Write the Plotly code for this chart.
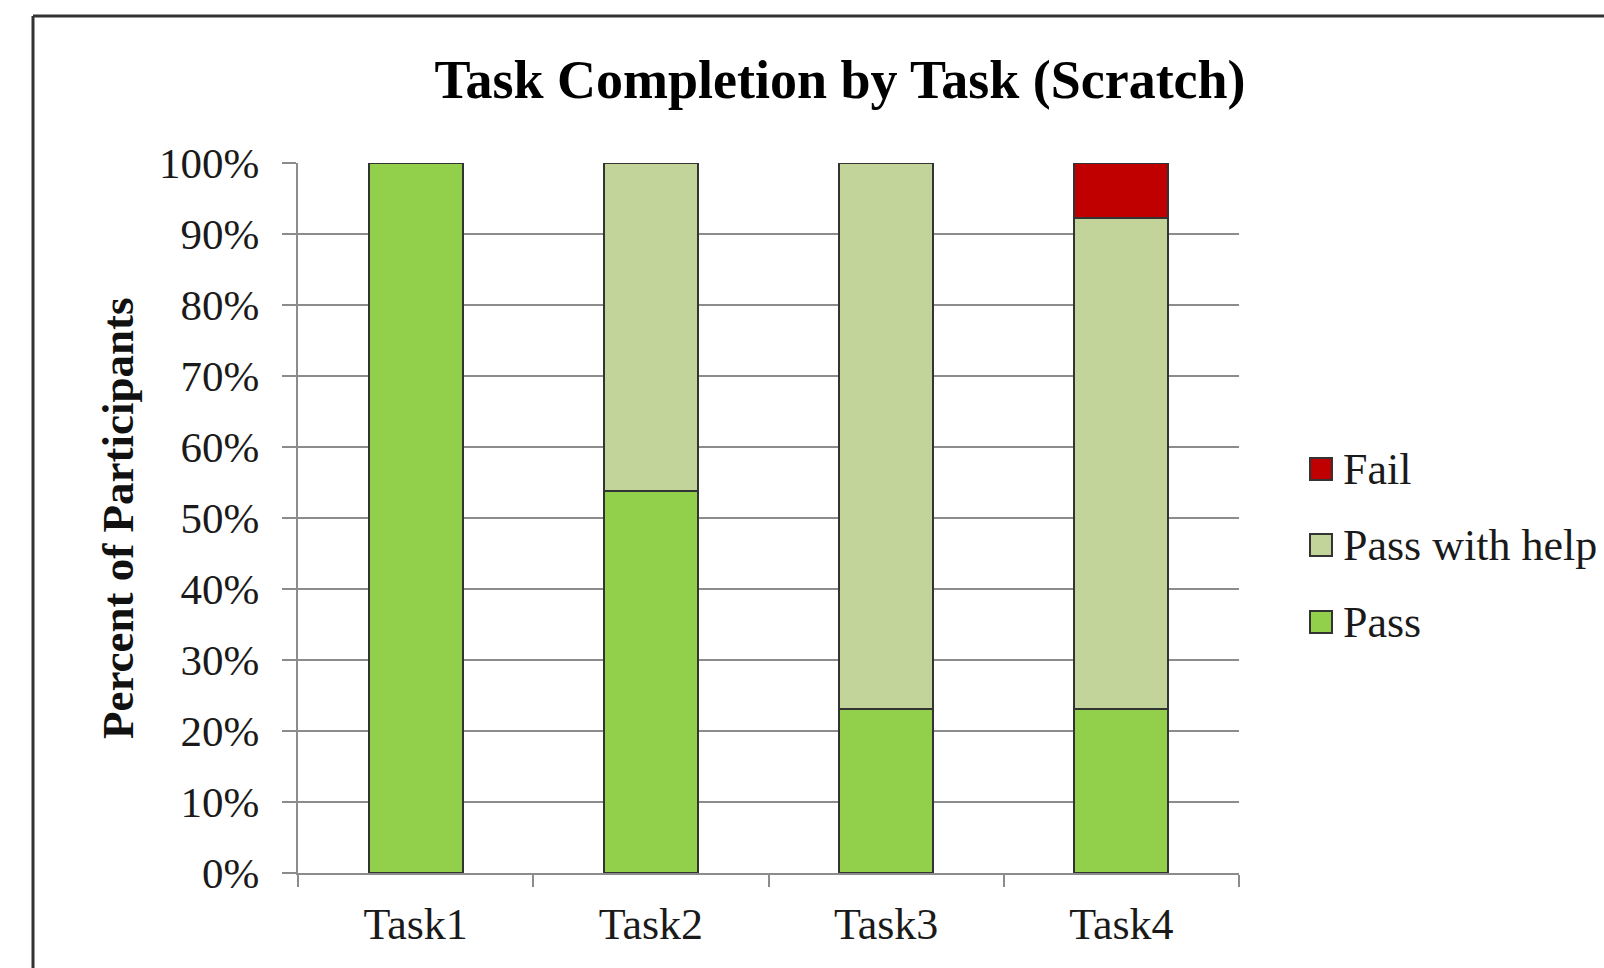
import plotly.graph_objects as go

# Share of participants per outcome (13 participants per task)
tasks = ["Task1", "Task2", "Task3", "Task4"]
pass_pct = [1.0, 0.538, 0.231, 0.231]
help_pct = [0.0, 0.462, 0.769, 0.692]
fail_pct = [0.0, 0.0, 0.0, 0.077]

series_names = ["Pass", "Pass with help", "Fail"]
series_colors = ["#92CF4A", "#C3D49B", "#C00000"]
series_values = [pass_pct, help_pct, fail_pct]

W, H = 1604, 968
L, R, T, B = 298, 365, 163, 95
pw, ph = W - L - R, H - T - B

FONT = "Liberation Serif"
EDGE = "#333333"

fig = go.Figure()
for name, color, vals in zip(series_names, series_colors, series_values):
    fig.add_trace(go.Bar(
        x=tasks, y=vals, name=name, width=0.4,
        marker=dict(color=color, line=dict(color=EDGE, width=2)),
        showlegend=False,
    ))


def px_x(x):
    return (x - L) / pw


def px_y(y):
    return (H - B - y) / ph


shapes = [
    # outer frame (left and top edges)
    dict(type="line", xref="paper", yref="paper", x0=px_x(33), x1=px_x(33),
         y0=px_y(16), y1=px_y(H + 10), line=dict(color="#333333", width=3)),
    dict(type="line", xref="paper", yref="paper", x0=px_x(33), x1=px_x(W + 10),
         y0=px_y(16), y1=px_y(16), line=dict(color="#333333", width=3)),
]
annotations = []

# legend drawn top-to-bottom: Fail, Pass with help, Pass
legend_y = [469, 545, 622]
for (name, color), yc in zip(list(zip(series_names, series_colors))[::-1], legend_y):
    shapes.append(dict(type="rect", xref="paper", yref="paper",
                       x0=px_x(1310), x1=px_x(1332), y0=px_y(yc - 11), y1=px_y(yc + 11),
                       fillcolor=color, line=dict(color=EDGE, width=2)))
    annotations.append(dict(text=name, xref="paper", yref="paper",
                            x=px_x(1341), y=px_y(yc), xanchor="left", yanchor="middle",
                            showarrow=False, font=dict(family=FONT, size=44, color="#1a1a1a")))

annotations.append(dict(text="<b>Percent of Participants</b>", xref="paper", yref="paper",
                        x=px_x(118), y=0.5, textangle=-90, showarrow=False,
                        xanchor="center", yanchor="middle",
                        font=dict(family=FONT, size=45, color="#111111")))

fig.update_layout(
    width=W, height=H,
    margin=dict(l=L, r=R, t=T, b=B, autoexpand=False),
    paper_bgcolor="white", plot_bgcolor="white",
    barmode="stack",
    title=dict(text="<b>Task Completion by Task (Scratch)</b>",
               x=840 / W, xanchor="center", y=1 - 79 / H, yanchor="middle",
               font=dict(family=FONT, size=54, color="#000000")),
    shapes=shapes, annotations=annotations,
    bargap=0.6,
)
fig.update_xaxes(
    showline=True, linecolor="#8c8c8c", linewidth=2,
    ticks="outside", tickson="boundaries", ticklen=12, tickcolor="#8c8c8c", tickwidth=2,
    ticklabelstandoff=11,
    tickfont=dict(family=FONT, size=44, color="#1a1a1a"),
    showgrid=False,
)
fig.update_yaxes(
    range=[0, 1], tickformat=".0%", dtick=0.1,
    showline=True, linecolor="#8c8c8c", linewidth=2,
    ticks="outside", ticklen=14, tickcolor="#8c8c8c", tickwidth=2,
    ticklabelstandoff=14,
    showgrid=True, gridcolor="#8c8c8c", gridwidth=2,
    zeroline=False,
    tickfont=dict(family=FONT, size=43, color="#1a1a1a"),
)

fig.write_html("out.html")
